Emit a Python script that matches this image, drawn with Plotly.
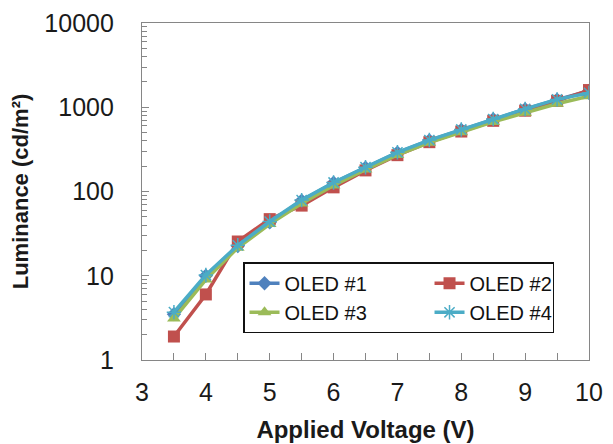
import plotly.graph_objects as go

voltage = [3.5, 4.0, 4.5, 5.0, 5.5, 6.0, 6.5, 7.0, 7.5, 8.0, 8.5, 9.0, 9.5, 10.0]
oled1 = [3.5, 10.0, 22.5, 43, 78, 127, 192, 290, 405, 540, 720, 950, 1230, 1560]
oled2 = [1.9, 6.0, 25.5, 47, 68, 112, 178, 270, 385, 515, 690, 910, 1190, 1600]
oled3 = [3.1, 9.0, 21.5, 41, 72, 118, 182, 272, 380, 505, 670, 860, 1100, 1350]
oled4 = [3.7, 10.2, 23, 44, 79, 128, 194, 292, 408, 545, 725, 955, 1240, 1480]

names = ["OLED #1", "OLED #2", "OLED #3", "OLED #4"]
colors = ["#4F81BD", "#C0504D", "#9BBB59", "#4BACC6"]
symbols = ["diamond", "square", "triangle-up", "asterisk-open"]
sizes = [11, 12, 12, 12]
legend_widths = [140, 78, 140, 78]
series = [oled1, oled2, oled3, oled4]

y_tickvals = [1, 10, 100, 1000, 10000]
y_ticktext = ["1", "10", "100", "1000", "10000"]
x_tickvals = [3, 4, 5, 6, 7, 8, 9, 10]

fig = go.Figure()
for name, vals, c, s, sz, lw in zip(names, series, colors, symbols, sizes, legend_widths):
    marker = dict(symbol=s, size=sz, color=c)
    if s == "asterisk-open":
        marker["line"] = dict(color=c, width=1.5)
    fig.add_trace(go.Scatter(x=voltage, y=vals, name=name, mode="lines+markers",
                             line=dict(color=c, width=3.5), marker=marker,
                             legendwidth=lw))

axis_col = "#868686"
# page body has an 8px default margin, so the figure is sized to fit the 613x444 window
fig.update_layout(
    width=605, height=436,
    margin=dict(l=134, r=24, t=15, b=84),
    paper_bgcolor="white", plot_bgcolor="white",
    font=dict(family="Liberation Sans, Arial, sans-serif", color="#1a1a1a"),
    showlegend=True,
    legend=dict(x=0.226, y=0.29, xanchor="left", yanchor="top",
                orientation="h", entrywidth=140,
                bordercolor="#111111", borderwidth=1.5, bgcolor="white",
                font=dict(size=20, color="#111111"), tracegroupgap=0),
)
fig.update_xaxes(
    range=[3, 10], tickvals=x_tickvals, ticks="inside", ticklen=7, tickcolor=axis_col,
    showline=True, linecolor=axis_col, linewidth=1.2, mirror=True, showgrid=False,
    zeroline=False, tickfont=dict(size=25), ticklabelstandoff=10, automargin=False,
    minor=dict(dtick=0.5, ticks="inside", ticklen=7, tickcolor=axis_col, showgrid=False),
    title=dict(text="<b>Applied Voltage (V)</b>", font=dict(size=24), standoff=16),
)
fig.update_yaxes(
    type="log", range=[0, 4], tickvals=y_tickvals, ticktext=y_ticktext,
    ticks="inside", ticklen=7, tickcolor=axis_col,
    showline=True, linecolor=axis_col, linewidth=1.2, mirror=True, showgrid=False,
    zeroline=False, tickfont=dict(size=25), ticklabelstandoff=22, automargin=False,
    minor=dict(dtick="D1", ticks="inside", ticklen=5, tickcolor=axis_col, showgrid=False),
    title=dict(text="<b>Luminance (cd/m²)</b>", font=dict(size=22), standoff=10),
)

fig.write_html("out.html")
